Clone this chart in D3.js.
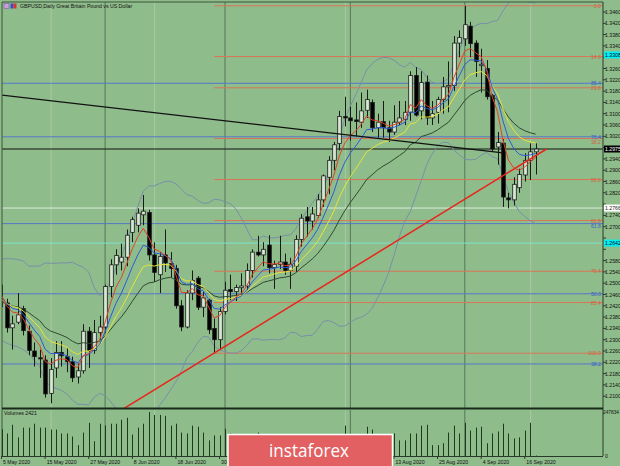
<!DOCTYPE html>
<html><head><meta charset="utf-8">
<script src="https://cdn.jsdelivr.net/npm/d3@7"></script>
<style>
html,body{margin:0;padding:0;background:#8fbc8b;}
svg{display:block;font-family:"Liberation Sans",Arial,sans-serif;}
</style></head><body>
<svg id="c" width="620" height="466"></svg>
<script>
// ---------- DATA ----------
const dates = ["2020-05-05","2020-05-06","2020-05-07","2020-05-08","2020-05-11","2020-05-12","2020-05-13","2020-05-14","2020-05-15","2020-05-18","2020-05-19","2020-05-20","2020-05-21","2020-05-22","2020-05-25","2020-05-26","2020-05-27","2020-05-28","2020-05-29","2020-06-01","2020-06-02","2020-06-03","2020-06-04","2020-06-05","2020-06-08","2020-06-09","2020-06-10","2020-06-11","2020-06-12","2020-06-15","2020-06-16","2020-06-17","2020-06-18","2020-06-19","2020-06-22","2020-06-23","2020-06-24","2020-06-25","2020-06-26","2020-06-29","2020-06-30","2020-07-01","2020-07-02","2020-07-03","2020-07-06","2020-07-07","2020-07-08","2020-07-09","2020-07-10","2020-07-13","2020-07-14","2020-07-15","2020-07-16","2020-07-17","2020-07-20","2020-07-21","2020-07-22","2020-07-23","2020-07-24","2020-07-27","2020-07-28","2020-07-29","2020-07-30","2020-07-31","2020-08-03","2020-08-04","2020-08-05","2020-08-06","2020-08-07","2020-08-10","2020-08-11","2020-08-12","2020-08-13","2020-08-14","2020-08-17","2020-08-18","2020-08-19","2020-08-20","2020-08-21","2020-08-24","2020-08-25","2020-08-26","2020-08-27","2020-08-28","2020-08-31","2020-09-01","2020-09-02","2020-09-03","2020-09-04","2020-09-07","2020-09-08","2020-09-09","2020-09-10","2020-09-11","2020-09-14","2020-09-15","2020-09-16","2020-09-17","2020-09-18"];

const open = [1.2435,1.2430,1.2342,1.2362,1.2410,1.2330,1.2260,1.2236,1.2228,1.2110,
1.2200,1.2255,1.2240,1.2222,1.2168,1.2190,1.2330,1.2262,1.2325,1.2345,
1.2488,1.2565,1.2575,1.2592,1.2680,1.2705,1.2742,1.2750,1.2600,1.2530,
1.2600,1.2570,1.2552,1.2420,1.2345,1.2465,1.2518,1.2415,1.2440,1.2340,
1.2300,1.2400,1.2478,1.2470,1.2484,1.2490,1.2545,1.2610,1.2600,1.2635,
1.2555,1.2566,1.2575,1.2545,1.2560,1.2655,1.2735,1.2720,1.2740,1.2795,
1.2875,1.2935,1.2995,1.3090,1.3085,1.3078,1.3070,1.3112,1.3140,1.3050,
1.3072,1.3050,1.3035,1.3070,1.3080,1.3105,1.3235,1.3110,1.3212,1.3085,
1.3105,1.3150,1.3195,1.3200,1.3350,1.3365,1.3410,1.3350,1.3270,1.3260,
1.3165,1.2982,1.2996,1.2802,1.2795,1.2838,1.2883,1.2935,1.2965];
const high = [1.2495,1.2445,1.2385,1.2465,1.2420,1.2350,1.2290,1.2265,1.2245,1.2235,
1.2295,1.2295,1.2270,1.2240,1.2215,1.2355,1.2345,1.2370,1.2385,1.2495,
1.2585,1.2620,1.2640,1.2690,1.2735,1.2765,1.2812,1.2760,1.2645,1.2610,
1.2690,1.2610,1.2565,1.2440,1.2475,1.2545,1.2525,1.2470,1.2445,1.2375,
1.2415,1.2505,1.2530,1.2495,1.2535,1.2570,1.2620,1.2668,1.2645,1.2670,
1.2580,1.2668,1.2605,1.2590,1.2670,1.2745,1.2770,1.2770,1.2815,1.2885,
1.2950,1.3000,1.3110,1.3160,1.3125,1.3140,1.3175,1.3185,1.3150,1.3100,
1.3145,1.3075,1.3130,1.3145,1.3145,1.3250,1.3265,1.3250,1.3235,1.3145,
1.3160,1.3230,1.3285,1.3375,1.3395,1.3482,1.3425,1.3360,1.3330,1.3290,
1.3170,1.3035,1.3010,1.2820,1.2875,1.2905,1.2960,1.2995,1.2995];
const low = [1.2415,1.2325,1.2265,1.2355,1.2315,1.2245,1.2205,1.2165,1.2095,1.2075,
1.2165,1.2205,1.2185,1.2150,1.2145,1.2180,1.2200,1.2250,1.2300,1.2325,
1.2450,1.2530,1.2545,1.2560,1.2645,1.2680,1.2705,1.2580,1.2505,1.2465,
1.2540,1.2520,1.2410,1.2330,1.2340,1.2440,1.2405,1.2380,1.2320,1.2252,
1.2265,1.2390,1.2440,1.2437,1.2462,1.2476,1.2520,1.2595,1.2560,1.2535,
1.2480,1.2550,1.2530,1.2480,1.2540,1.2630,1.2665,1.2690,1.2730,1.2770,
1.2815,1.2900,1.2970,1.3055,1.3005,1.3020,1.3050,1.3085,1.3035,1.3015,
1.3015,1.3000,1.3025,1.3060,1.3060,1.3075,1.3090,1.3080,1.3060,1.3060,
1.3065,1.3100,1.3105,1.3180,1.3300,1.3340,1.3300,1.3230,1.3175,1.3150,
1.2965,1.2920,1.2770,1.2765,1.2775,1.2820,1.2860,1.2865,1.2885];
const close = [1.2440,1.2342,1.2356,1.2388,1.2332,1.2262,1.2240,1.2232,1.2108,1.2195,
1.2255,1.2243,1.2222,1.2165,1.2190,1.2330,1.2262,1.2325,1.2345,1.2488,
1.2565,1.2598,1.2592,1.2670,1.2725,1.2748,1.2755,1.2600,1.2538,1.2595,
1.2572,1.2552,1.2420,1.2345,1.2465,1.2510,1.2415,1.2448,1.2335,1.2300,
1.2400,1.2475,1.2470,1.2485,1.2490,1.2545,1.2610,1.2600,1.2620,1.2555,
1.2566,1.2575,1.2545,1.2567,1.2655,1.2730,1.2720,1.2745,1.2795,1.2880,
1.2935,1.2990,1.3090,1.3085,1.3075,1.3072,1.3110,1.3150,1.3050,1.3070,
1.3050,1.3035,1.3070,1.3085,1.3105,1.3235,1.3095,1.3210,1.3085,1.3100,
1.3150,1.3195,1.3200,1.3350,1.3370,1.3415,1.3348,1.3285,1.3275,1.3160,
1.2975,1.2998,1.2805,1.2795,1.2850,1.2885,1.2935,1.2965,1.2975];
const volume = [150000,127000,176000,105000,160000,160000,182000,160000,160000,149000,
149000,127000,127000,110000,61000,132000,187000,83000,182000,171000,
182000,182000,204000,215000,121000,160000,182000,247834,231000,231000,
226000,171000,182000,132000,127000,171000,165000,132000,88000,116000,
116000,154000,127000,116000,95000,110000,118000,132000,105000,115000,
112000,118000,100000,98000,110000,118000,115000,105000,112000,118000,
115000,110000,120000,171000,115000,110000,112000,165000,149000,118000,
115000,110000,127000,88000,88000,127000,127000,171000,176000,61000,
61000,72000,132000,171000,127000,187000,143000,160000,165000,72000,
127000,138000,182000,127000,99000,105000,143000,187000,2421];
// closes before the visible window (indicator warm-up)
const priorCloses = [1.2415,1.2395,1.2270,1.2265,1.2365,1.2415,1.2450,1.2455,1.2495,1.2575,1.2480,1.2450,1.2490,1.2425,1.2305,1.2310,1.2345,1.2370,1.2425,1.2415,1.2455,1.2595,1.2490,1.2435];

const priceTicks = d3.range(0, 35).map(k => +(1.2100 + k * 0.0040).toFixed(4));
const dateTickIdx = [0,8,16,24,32,40,48,56,64,72,80,88,96];
const monthStartIdx = [19,41,64,85];
const markerIdx = [9,28,63,97];

const fibOrange = {low: 1.2252, high: 1.3482, lowIdx: 39};
const fibOrangeLevels = [0, 14.6, 23.6, 38.2, 50, 61.8, 76.4, 85.4, 100];
const fibBlue = {low: 1.1410, high: 1.3515};
const fibBlueLevels = [38.2, 50, 61.8, 76.4, 85.4];

const blackTrend = [[0, 1.3166], [92, 1.2961]];
const redTrend = [[22, 1.2051], [100, 1.2975]];
const whiteLevel = 1.2766, cyanLevel = 1.2642, cyanTopLevel = 1.3308;
const volMaxLabel = 247834;

// ---------- LAYOUT ----------
const svg = d3.select("#c");
const L = 2, R = 603, T = 2, B = 408, VT = 410, VB = 456;
const x = d3.scaleLinear().domain([0, 98]).range([1.55, 535.65]);
const y = d3.scaleLinear().domain([1.2100, 1.3460]).range([396.2, 12]);
const yv = d3.scaleLinear().domain([0, volMaxLabel]).range([VB, 412]);
const FS = 5.2;

svg.append("rect").attr("width",620).attr("height",466).attr("fill","#8fbc8b");
const defs = svg.append("defs");
defs.append("clipPath").attr("id","main").append("rect").attr("x",L).attr("y",T).attr("width",R-L).attr("height",B-T);
defs.append("clipPath").attr("id","vol").append("rect").attr("x",L).attr("y",VT).attr("width",R-L).attr("height",VB-VT);

const g = svg.append("g").attr("clip-path","url(#main)");

// light vertical markers
markerIdx.forEach(i=>{
  g.append("line").attr("x1",x(i)+0.5).attr("x2",x(i)+0.5).attr("y1",T).attr("y2",B).attr("stroke","#a9c9a5").attr("stroke-width",1);
  svg.append("line").attr("x1",x(i)+0.5).attr("x2",x(i)+0.5).attr("y1",VT).attr("y2",VB).attr("stroke","#a9c9a5").attr("stroke-width",1);
});
// month separators
monthStartIdx.forEach(i=>{
  g.append("line").attr("x1",x(i)).attr("x2",x(i)).attr("y1",T).attr("y2",B).attr("stroke","#56755a").attr("stroke-width",1);
  svg.append("line").attr("x1",x(i)).attr("x2",x(i)).attr("y1",VT).attr("y2",VB).attr("stroke","#56755a").attr("stroke-width",1);
});

// fib lines
const fo = fibOrangeLevels.map(r => ({r, p: fibOrange.high - r/100*(fibOrange.high - fibOrange.low)}));
fo.forEach(d=>{
  g.append("line").attr("x1",x(fibOrange.lowIdx)).attr("x2",R).attr("y1",y(d.p)).attr("y2",y(d.p)).attr("stroke","#d9765a").attr("stroke-width",1);
});
const fb = fibBlueLevels.map(r => ({r, p: fibBlue.low + r/100*(fibBlue.high - fibBlue.low)}));
fb.forEach(d=>{
  g.append("line").attr("x1",L).attr("x2",R).attr("y1",y(d.p)).attr("y2",y(d.p)).attr("stroke","#5577c8").attr("stroke-width",1);
});
// horizontal levels
g.append("line").attr("x1",L).attr("x2",R).attr("y1",y(whiteLevel)).attr("y2",y(whiteLevel)).attr("stroke","#e8f2e6").attr("stroke-width",0.9);
g.append("line").attr("x1",L).attr("x2",R).attr("y1",y(cyanLevel)).attr("y2",y(cyanLevel)).attr("stroke","#7ae8d8").attr("stroke-width",0.9);
g.append("line").attr("x1",L).attr("x2",R).attr("y1",y(close[close.length-1])).attr("y2",y(close[close.length-1])).attr("stroke","#111").attr("stroke-width",1);

// indicators
const all = priorCloses.concat(close), off = priorCloses.length;
function ema(a,n){const k=2/(n+1);let e=a[0];return a.map((v,i)=>(e = i? v*k+e*(1-k) : v));}
function bands(a,n,dv){return a.map((v,i)=>{if(i<n-1)return null;const w=a.slice(i-n+1,i+1);const m=d3.mean(w);const s=Math.sqrt(d3.mean(w,q=>(q-m)*(q-m)));return {up:m+dv*s,lo:m-dv*s};});}
const bb = bands(all,20,2).slice(off);
const line = d3.line().x((d,i)=>x(i)).y(d=>y(d));
g.append("path").attr("d",line(bb.map(d=>d.up))).attr("fill","none").attr("stroke","#7890a8").attr("stroke-width",1);
g.append("path").attr("d",line(bb.map(d=>d.lo))).attr("fill","none").attr("stroke","#7890a8").attr("stroke-width",1);

// candles
const cg = g.append("g");
const bw = 3.6;
close.forEach((c,i)=>{
  const xi = Math.round(x(i))+0.5;
  cg.append("line").attr("x1",xi).attr("x2",xi).attr("y1",y(high[i])).attr("y2",y(low[i])).attr("stroke","#1a1a1a").attr("stroke-width",1);
  const top = y(Math.max(open[i],c)), bot = y(Math.min(open[i],c));
  cg.append("rect").attr("x",xi-bw/2).attr("y",top).attr("width",bw).attr("height",Math.max(1,bot-top))
    .attr("fill", c>=open[i] ? "#d6e8d2" : "#000").attr("stroke", "#1a1a1a").attr("stroke-width",0.8);
});

[[21,"#2f4a2f"],[13,"#e8e43a"],[8,"#2d5bd6"],[5,"#e2412b"]].forEach(([n,col])=>{
  g.append("path").attr("d",line(ema(all,n).slice(off))).attr("fill","none").attr("stroke",col).attr("stroke-width",1);
});

// trendlines
g.append("line").attr("x1",x(blackTrend[0][0])).attr("y1",y(blackTrend[0][1])).attr("x2",x(blackTrend[1][0])).attr("y2",y(blackTrend[1][1])).attr("stroke","#111").attr("stroke-width",1.3);
g.append("line").attr("x1",x(redTrend[0][0])).attr("y1",y(redTrend[0][1])).attr("x2",x(redTrend[1][0])).attr("y2",y(redTrend[1][1])).attr("stroke","#e8261c").attr("stroke-width",1.5);

// fib labels (stacked so they never collide)
const fibLabels = fo.map(d=>({y:y(d.p), t:d.r.toFixed(1), c:"#d2623e"}))
  .concat(fb.map(d=>({y:y(d.p), t:d.r.toFixed(1), c:"#3a5cc8"})))
  .sort((a,b)=>a.y-b.y);
let prevY = -100;
fibLabels.forEach(d=>{
  let ty = Math.max(d.y + 2, prevY + 5.2);
  prevY = ty;
  svg.append("text").attr("x",601).attr("y",ty).attr("text-anchor","end").attr("font-size",FS).attr("fill",d.c).text(d.t);
});

// frame
svg.append("line").attr("x1",L).attr("x2",L).attr("y1",T).attr("y2",VB).attr("stroke","#3d553d");
svg.append("line").attr("x1",L).attr("x2",R).attr("y1",T).attr("y2",T).attr("stroke","#3d553d");
svg.append("line").attr("x1",R).attr("x2",R).attr("y1",T).attr("y2",VB).attr("stroke","#2a3a2a");
svg.append("line").attr("x1",L).attr("x2",R).attr("y1",B+0.5).attr("y2",B+0.5).attr("stroke","#1a2a1a").attr("stroke-width",2);
svg.append("line").attr("x1",L).attr("x2",R).attr("y1",VB+0.5).attr("y2",VB+0.5).attr("stroke","#2a3a2a");

// price axis
const boxes = [[cyanTopLevel,"#00f0f0","#003"],[whiteLevel,"#ffffff","#222"],[cyanLevel,"#00f0f0","#003"],[close[close.length-1],"#000","#fff"]];
const ax = svg.append("g").attr("font-size",FS).attr("fill","#111");
priceTicks.forEach(p=>{
  svg.append("line").attr("x1",R).attr("x2",R+3).attr("y1",y(p)).attr("y2",y(p)).attr("stroke","#2a3a2a");
  if (boxes.some(b=>Math.abs(y(b[0])-y(p))<6.5)) return;
  ax.append("text").attr("x",605).attr("y",y(p)+2).text(p.toFixed(4));
});
boxes.forEach(([p,bg,fg])=>{
  const yy = y(p);
  svg.append("rect").attr("x",R+1).attr("y",yy-3.5).attr("width",620-R-1).attr("height",7).attr("fill",bg);
  svg.append("text").attr("x",605).attr("y",yy+2).attr("font-size",FS).attr("fill",fg).text(p.toFixed(4));
});

// volume
const vg = svg.append("g").attr("clip-path","url(#vol)");
volume.forEach((v,i)=>{
  const xi = Math.round(x(i))+0.5;
  vg.append("line").attr("x1",xi).attr("x2",xi).attr("y1",yv(0)).attr("y2",yv(v)).attr("stroke","#1e3a1e").attr("stroke-width",1);
});
svg.append("text").attr("x",4).attr("y",415).attr("font-size",FS).attr("fill","#111").text("Volumes " + volume[volume.length-1]);
svg.append("text").attr("x",619).attr("y",414).attr("text-anchor","end").attr("font-size",4.8).attr("fill","#111").text(volMaxLabel);
svg.append("text").attr("x",605).attr("y",458).attr("font-size",FS).attr("fill","#111").text("0");

// date axis (labels under the logo are hidden in the reference)
const fmt = d3.timeFormat("%-d %b %Y"), parse = d3.timeParse("%Y-%m-%d");
dateTickIdx.forEach(i=>{
  svg.append("line").attr("x1",x(i)).attr("x2",x(i)).attr("y1",VB).attr("y2",VB+3).attr("stroke","#2a3a2a");
  if (x(i) > 226 && x(i) < 392) return;
  svg.append("text").attr("x",x(i)+1.5).attr("y",463.5).attr("font-size",FS).attr("fill","#111").text(fmt(parse(dates[i])));
});

// title
svg.append("rect").attr("x",4).attr("y",3.5).attr("width",5).attr("height",5).attr("fill","#c8a0d8").attr("stroke","#7050a0").attr("stroke-width",0.5);
svg.append("rect").attr("x",10.5).attr("y",3.5).attr("width",3).attr("height",5).attr("fill","#3050d0");
svg.append("rect").attr("x",13.5).attr("y",3.5).attr("width",3).attr("height",5).attr("fill","#e03030");
svg.append("text").attr("x",20).attr("y",8).attr("font-size",FS).attr("fill","#111").text("GBPUSD,Daily  Great Britain Pound vs US Dollar");

// logo
const lg = svg.append("g");
lg.append("rect").attr("x",228).attr("y",434.5).attr("width",164.5).attr("height",34).attr("fill","#e25f62").attr("stroke","#fff").attr("stroke-width",1.5);
lg.append("text").attr("x",309).attr("y",457).attr("text-anchor","middle").attr("font-family","'Open Sans',sans-serif").attr("font-size",18).attr("fill","#fff")
  .attr("textLength",80).attr("lengthAdjust","spacingAndGlyphs").text("instaforex");
</script>
</body></html>
